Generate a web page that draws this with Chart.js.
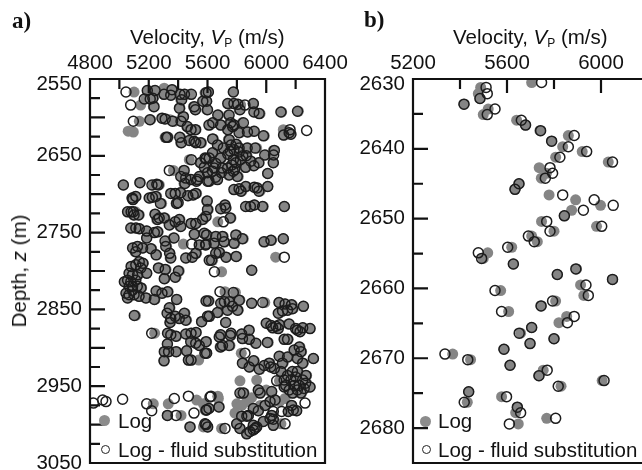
<!DOCTYPE html>
<html>
<head>
<meta charset="utf-8">
<title>Velocity logs</title>
<script src="https://cdn.jsdelivr.net/npm/chart.js@4"></script>
<style>
    html, body { margin: 0; padding: 0; background: #fff; width: 642px; height: 470px; overflow: hidden; }
    body { position: relative; font-family: "Liberation Sans", Arial, sans-serif; font-size: 20.5px; color: #111; }
    canvas { position: absolute; top: 0; }
    #chartA { left: 0; }
    #chartB { left: 345px; }
    .txt { position: absolute; white-space: nowrap; line-height: 24px; }
    .panel { font-family: "Liberation Serif", serif; font-weight: bold; font-size: 23px; }
    .txt sub { font-size: 12px; line-height: 0; vertical-align: -3px; }
    .dot { position: absolute; width: 11px; height: 11px; border-radius: 50%; background: #8c8c8c; }
    .ring { position: absolute; width: 7px; height: 7px; border-radius: 50%; border: 1.4px solid #222; }
</style>
</head>
<body>
<canvas id="chartA" width="360" height="490"></canvas>
<canvas id="chartB" width="320" height="490"></canvas>

<div class="txt panel" style="left:12px;top:9px">a)</div>
<div class="txt panel" style="left:364px;top:8px">b)</div>
<div class="txt" style="left:130px;top:25px">Velocity, <i>V</i><sub>P</sub> (m/s)</div>
<div class="txt" style="left:453px;top:25px">Velocity, <i>V</i><sub>P</sub> (m/s)</div>
<div class="txt" style="left:19px;top:271px;transform:translate(-50%,-50%) rotate(-90deg)">Depth, <i>z</i> (m)</div>

<div class="dot" style="left:99px;top:415px"></div>
<div class="txt" style="left:118px;top:409px">Log</div>
<div class="ring" style="left:101px;top:445px"></div>
<div class="txt" style="left:118px;top:438px">Log - fluid substitution</div>

<div class="dot" style="left:420px;top:416px"></div>
<div class="txt" style="left:438px;top:409px">Log</div>
<div class="ring" style="left:422px;top:445px"></div>
<div class="txt" style="left:438px;top:438px">Log - fluid substitution</div>

<script>
const logLabel = 'Log';
const subLabel = 'Log - fluid substitution';

// Panel a) whole interval
const depthA = [
    2567, 2584, 2605, 2618, 2619, 2565, 2565, 2562, 2570, 2564,
    2571, 2575, 2576, 2576, 2586, 2570, 2570, 2570, 2577, 2588,
    2586, 2590, 2568, 2579, 2590, 2603, 2601, 2602, 2605, 2599,
    2605, 2612, 2616, 2616, 2603, 2626, 2626, 2626, 2633, 2630,
    2631, 2633, 2633, 2655, 2654, 2659, 2665, 2669, 2669, 2677,
    2679, 2686, 2681, 2681, 2677, 2683, 2683, 2688, 2685, 2688,
    2687, 2688, 2699, 2699, 2698, 2702, 2701, 2699, 2705, 2707,
    2703, 2705, 2704, 2703, 2712, 2712, 2711, 2709, 2567, 2567,
    2579, 2582, 2582, 2583, 2584, 2590, 2582, 2593, 2595, 2593,
    2592, 2597, 2597, 2610, 2607, 2610, 2607, 2610, 2607, 2620,
    2619, 2618, 2624, 2616, 2612, 2616, 2617, 2623, 2620, 2622,
    2628, 2636, 2629, 2636, 2646, 2642, 2640, 2640, 2640, 2643,
    2649, 2659, 2649, 2659, 2657, 2665, 2659, 2677, 2673, 2653,
    2653, 2653, 2666, 2666, 2666, 2675, 2683, 2681, 2672, 2648,
    2644, 2650, 2650, 2668, 2672, 2663, 2635, 2645, 2655, 2655,
    2662, 2640, 2660, 2670, 2678, 2670, 2694, 2693, 2690, 2691,
    2696, 2690, 2696, 2692, 2714, 2718, 2716, 2714, 2716, 2716,
    2716, 2723, 2723, 2723, 2727, 2727, 2726, 2731, 2733, 2731,
    2740, 2733, 2736, 2742, 2738, 2738, 2733, 2729, 2744, 2744,
    2745, 2748, 2757, 2750, 2749, 2761, 2757, 2768, 2783, 2777,
    2752, 2751, 2765, 2766, 2766, 2777, 2783, 2782, 2786, 2770,
    2768, 2770, 2775, 2771, 2779, 2788, 2790, 2792, 2794, 2796,
    2803, 2803, 2805, 2805, 2814, 2812, 2814, 2812, 2820, 2820,
    2820, 2822, 2825, 2829, 2831, 2835, 2831, 2833, 2835, 2837,
    2826, 2829, 2827, 2837, 2796, 2798, 2810, 2808, 2800, 2858,
    2848, 2855, 2862, 2859, 2862, 2855, 2864, 2867, 2866, 2859,
    2839, 2720, 2719, 2736, 2731, 2753, 2755, 2755, 2753, 2758,
    2762, 2764, 2764, 2765, 2762, 2760, 2758, 2777, 2776, 2782,
    2781, 2786, 2782, 2801, 2799, 2827, 2828, 2839, 2838, 2840,
    2842, 2840, 2842, 2841, 2841, 2843, 2844, 2846, 2846, 2851,
    2851, 2854, 2859, 2855, 2852, 2851, 2849, 2867, 2868, 2871,
    2872, 2870, 2869, 2875, 2874, 2875, 2874, 2875, 2877, 2877,
    2881, 2883, 2882, 2881, 2881, 2883, 2885, 2882, 2881, 2880,
    2895, 2894, 2892, 2897, 2907, 2905, 2905, 2905, 2904, 2917,
    2916, 2916, 2916, 2972, 2968, 2970, 2967, 2973, 2982, 2973,
    2966, 2963, 2968, 2988, 2988, 2985, 2973, 2981, 3003, 3000,
    3003, 2964, 2886, 2884, 2888, 2889, 2894, 2893, 2889, 2889,
    2879, 2892, 2899, 2897, 2897, 2907, 2907, 2911, 2903, 2899,
    2905, 2914, 2912, 2914, 2920, 2920, 2920, 2925, 2917, 2928,
    2923, 2920, 2925, 2927, 2931, 2943, 2942, 2943, 2942, 2936,
    2931, 2931, 2936, 2949, 2942, 2938, 2942, 2949, 2946, 2955,
    2949, 2955, 2953, 2951, 2951, 2959, 2959, 2959, 2959, 2955,
    2959, 2957, 2955, 2970, 2973, 2975, 2966, 2970, 2975, 2965,
    2963, 2966, 2977, 2979, 2981, 2972, 2968, 2970, 2975, 2979,
    2988, 2989, 2985, 2975, 2981, 2983, 2982, 2983, 2999, 3005,
    3005, 2989, 2982, 2992, 2993, 2988, 2996, 2983, 2999, 3001,
    3005, 3007, 3009, 3012, 3003, 3001, 3003, 2999
];
const logVpA = [
    5100, 5145, 5136, 5060, 5095, 5197, 5235, 5305, 5300, 5363,
    5356, 5231, 5204, 5180, 5231, 5408, 5447, 5481, 5418, 5413,
    5504, 5515, 5583, 5572, 5594, 5213, 5295, 5304, 5375, 5431,
    5424, 5458, 5481, 5522, 5345, 5311, 5333, 5417, 5417, 5481,
    5504, 5526, 5560, 5476, 5594, 5549, 5583, 5368, 5436, 5424,
    5447, 5440, 5492, 5526, 5549, 5606, 5520, 5027, 5140, 5231,
    5249, 5272, 5356, 5386, 5413, 5470, 5497, 5526, 5084, 5095,
    5106, 5209, 5231, 5254, 5288, 5386, 5395, 5594, 5606, 5776,
    5594, 5742, 5776, 5810, 5826, 5815, 5912, 5924, 5958, 6105,
    6219, 5674, 5742, 5617, 5640, 5696, 5753, 5787, 5835, 5821,
    5878, 5912, 5987, 5742, 5776, 6116, 6130, 6123, 6150, 6162,
    5640, 5674, 5742, 5753, 5640, 5787, 5821, 5878, 5935, 6048,
    6040, 6048, 5999, 5946, 5889, 5855, 5799, 5810, 6010, 5696,
    5617, 5590, 5651, 5696, 5742, 5742, 5617, 5662, 5594, 5730,
    5760, 5835, 5870, 5780, 5700, 5910, 5800, 5810, 5780, 5830,
    5760, 5700, 5650, 5640, 5660, 5780, 5787, 5821, 5867, 5924,
    5958, 6010, 5835, 5945, 5719, 5719, 5867, 5919, 5980, 6123,
    5885, 5110, 5061, 5084, 5095, 5136, 5243, 5277, 5254, 5311,
    5345, 5413, 5386, 5413, 5492, 5526, 5572, 5583, 5084, 5118,
    5140, 5186, 5186, 5243, 5265, 5320, 5367, 5322, 5345, 5345,
    5515, 5583, 5436, 5549, 5583, 5526, 5458, 5492, 5620, 5095,
    5129, 5163, 5106, 5220, 5254, 5140, 5163, 5118, 5084, 5140,
    5186, 5072, 5095, 5129, 5038, 5061, 5084, 5106, 5061, 5095,
    5129, 5152, 5084, 5050, 5072, 5061, 5095, 5140, 5186, 5243,
    5254, 5295, 5333, 5390, 5272, 5318, 5311, 5386, 5408, 5110,
    5345, 5333, 5356, 5386, 5413, 5447, 5458, 5345, 5560, 5606,
    5594, 5606, 5696, 5670, 5760, 5594, 5662, 5708, 5799, 5844,
    5719, 5651, 5787, 5594, 5992, 6037, 6116, 5662, 5685, 5730,
    5799, 5635, 6064, 5696, 5901, 5719, 5790, 5612, 5821, 5753,
    5696, 5719, 5901, 5990, 6087, 6128, 6178, 6253, 5776, 5810,
    5742, 5674, 5617, 6087, 6116, 6150, 6184, 5724, 6003, 6037,
    6071, 6094, 6150, 6207, 6253, 6298, 6048, 6078, 6218, 5883,
    5760, 5685, 5833, 5240, 5333, 5356, 5390, 5458, 5492, 5522,
    5327, 5526, 5492, 5549, 5583, 5311, 5340, 5390, 5458, 5304,
    5470, 5492, 5540, null, null, null, null, 5231, null, 5333,
    null, null, 5526, 5327, 5420, null, 5572, 5583, 5481, 5583,
    5572, null, 5685, 5760, 5844, 5889, 5924, 6014, 6128, 6150,
    6230, 5594, 5685, 5708, 5753, 5594, 5830, 6094, 6196, 6230,
    6241, 6321, 6150, 6218, 6253, 6116, 5844, 5889, 5919, 5958,
    5992, 6026, 6037, 6060, 6105, 5821, 5935, 6090, 6128, 6150,
    6184, 6218, 6275, 6139, 6173, 6207, 6253, 6230, 6275, 6162,
    6196, 6218, 6264, 6298, 6128, 6184, 6241, 5830, 5850, 5946,
    5958, 6037, 6000, 5867, 5800, 5833, 6128, 6090, 5960, 5900,
    5670, 5674, 5678, 5610, 5594, null, 6060, 6026, 5992, 5912,
    5878, 5833, 5787, 6173, 6184, 6150, 6207, null, 5799, 5821,
    5696, 5868, 5946, 6026, 6048, 6037, 5980, null, 6100, 6048,
    5924, 5912, 5889, 5867, 5935, 5912, 5601, 5583
];
const subVpA = [
    5045, 5077, 5095, null, null, 5190, 5243, null, 5304, 5358,
    5350, 5228, 5210, 5170, 5236, 5413, 5443, 5490, 5424, 5409,
    5510, 5518, 5590, 5568, 5600, 5208, 5290, 5312, 5362, 5436,
    5420, 5463, 5488, 5518, null, 5318, 5327, 5411, 5422, 5476,
    5509, 5520, 5553, 5490, 5590, 5553, 5578, 5340, 5441, 5418,
    5452, 5446, 5487, 5532, 5544, 5600, 5526, 5027, 5140, 5222,
    5255, 5264, 5350, 5380, 5417, 5466, 5503, 5520, 5088, 5092,
    5112, 5203, 5225, 5248, 5280, 5390, 5400, 5598, 5606, 5776,
    5594, 5738, 5780, 5806, 5855, 5821, 5912, 5916, 5952, 6100,
    6213, 5670, 5747, 5610, 5636, 5690, 5758, 5780, 5844, 5815,
    5872, 5918, 5981, 5738, 5771, 6162, 6275, 6118, 6156, 6168,
    5635, 5668, 5748, 5760, 5634, 5780, 5815, 5870, 5925, 6055,
    6050, 6048, 5990, 5950, 5895, 5860, 5793, 5803, 6010, 5690,
    5612, 5583, 5646, 5700, 5737, 5748, 5610, 5668, 5600, 5738,
    5755, 5840, 5864, 5786, 5694, 5916, 5795, 5816, 5776, 5824,
    5766, 5708, 5657, 5634, 5655, 5775, 5780, 5815, 5860, 5918,
    5950, 6010, 5828, 5938, 5719, 5725, 5860, 5919, 5975, 6123,
    5892, 5095, 5056, 5080, 5100, 5130, 5243, 5271, 5260, 5305,
    5340, 5408, 5380, 5418, 5488, 5520, 5566, 5590, 5078, 5112,
    5135, 5186, 5186, 5238, 5260, 5311, 5372, 5316, 5350, 5342,
    5510, 5577, 5492, 5544, 5588, 5520, 5452, 5497, 5612, 5090,
    5123, 5158, 5112, 5215, 5250, 5135, 5160, 5112, 5080, 5146,
    5186, 5066, 5090, 5124, 5034, 5056, 5078, 5112, 5067, 5090,
    5122, 5147, 5090, 5045, 5066, 5055, 5100, 5134, 5180, 5238,
    5250, 5290, 5328, 5390, 5266, 5312, 5306, 5380, 5402, 5102,
    5340, 5325, 5350, 5380, 5408, 5442, 5452, 5345, 5560, 5600,
    5590, 5600, 5690, 5708, 5755, 5594, 5656, 5702, 5793, 5838,
    5713, 5645, 5781, 5589, 5985, 6032, 6116, 5656, 5680, 5726,
    5795, 5628, 6123, 5647, 5901, 5685, 5776, 5606, 5816, 5748,
    5690, 5715, 5901, 5976, 6087, 6128, 6172, 6253, 5770, 5805,
    5736, 5668, 5612, 6082, 6111, 6145, 6178, 5724, 6000, 6032,
    6066, 6090, 6156, 6200, 6248, 6298, 6044, 6082, 6212, 5883,
    5760, 5690, 5833, 5220, 5328, 5350, 5385, 5452, 5488, 5522,
    5327, 5520, 5486, 5544, 5583, 5306, 5335, 5386, 5458, 5304,
    5470, 5488, null, 4823, 4886, 4909, 5022, 5186, 5220, null,
    5374, 5470, null, 5327, 5386, 5508, null, 5590, 5481, 5590,
    null, 5617, 5680, 5755, 5838, 5885, 5930, 6008, 6122, 6145,
    6230, 5590, 5690, 5702, 5747, 5594, 5855, 6088, 6190, 6225,
    6236, 6321, 6145, 6212, 6248, 6110, 5838, 5884, 5914, 5952,
    5986, 6020, 6030, 6055, 6100, null, null, 6071, 6122, 6145,
    6178, 6212, 6270, 6133, 6168, 6200, 6248, 6224, 6268, 6156,
    6190, 6212, 6258, 6298, 6122, 6180, 6236, 5821, 5844, 5946,
    5958, 6037, null, null, null, null, null, null, null, null,
    5624, null, 5678, 5610, 5594, 6264, 6060, 6026, 5992, 5912,
    5878, 5833, null, 6173, 6184, 6150, 6207, 6105, 5799, 5821,
    5719, 5868, 5946, 6026, 6048, 6037, 5980, 6048, 6128, 6048,
    5924, 5912, 5889, 5867, 5935, 5912, 5601, 5583
];

// Panel b) close-up
const depthB = [
    2630.5, 2631.2, 2632.1, 2632.8, 2633.6, 2634.3, 2635.1, 2635.9, 2636.6, 2637.4,
    2638.1, 2638.9, 2639.7, 2640.4, 2641.2, 2641.9, 2642.7, 2643.5, 2644.2, 2645.0,
    2645.8, 2646.6, 2647.3, 2648.1, 2648.8, 2649.6, 2650.4, 2651.1, 2651.8, 2652.5,
    2653.3, 2654.1, 2654.9, 2655.7, 2656.5, 2657.2, 2658.0, 2658.7, 2659.5, 2660.3,
    2661.0, 2661.8, 2662.5, 2663.3, 2664.0, 2664.9, 2665.6, 2666.4, 2667.2, 2667.9,
    2668.7, 2669.4, 2670.2, 2671.0, 2671.7, 2672.5, 2673.2, 2674.0, 2674.8, 2675.5,
    2676.3, 2677.0, 2677.8, 2678.6, 2679.4
];
const logVpB = [
    5705, 5488, 5478, 5485, 5417, 5520, 5499, 5641, 5679, 5740,
    5861, 5790, 5837, 5920, 5807, 6031, 5737, 5768, 5746, 5651,
    5634, 5779, 5892, 5998, 5875, 5844, 5747, 5981, 5800, 5705,
    5729, 5620, 5518, 5499, 5627, 5896, 5814, 6049, 5913, 5573,
    5927, 5807, 5745, 5607, 5854, 5821, 5705, 5658, 5800, 5698,
    5587, 5369, 5445, 5613, 5754, 5736, 6005, 5830, 5437, 5577,
    5431, 5644, 5637, 5769, 5648
];
const subVpB = [
    5747, 5511, 5516, 5485, 5417, 5549, 5516, 5661, 5679, 5743,
    5886, 5790, 5861, 5939, 5825, 6049, 5783, 5794, 5763, 5651,
    5634, 5837, 5971, 6052, 5925, 5844, 5769, 6003, 5783, 5691,
    5716, 5603, 5478, 5492, 5627, 5893, 5814, 6049, 5936, 5549,
    5946, 5794, 5745, 5577, 5886, 5857, 5705, 5652, 5800, 5698,
    5587, 5336, 5433, 5613, 5771, 5736, 6013, 5818, 5437, 5598,
    5418, 5644, 5658, 5807, 5610
];

// Frame and inward tick marks, long ones where a label can sit
const frameTicks = {
    id: 'frameTicks',
    afterDatasetsDraw(chart, args, opts) {
        const { ctx, chartArea, scales } = chart;
        ctx.save();
        ctx.strokeStyle = '#111';
        ctx.lineWidth = 2.2;
        ctx.beginPath();
        ctx.rect(chartArea.left, chartArea.top, chartArea.width, chartArea.height);
        scales.x.ticks.forEach(t => {
            const px = scales.x.getPixelForValue(t.value);
            const len = t.value % opts.xLong === 0 ? 14 : 10;
            ctx.moveTo(px, chartArea.top);
            ctx.lineTo(px, chartArea.top + len);
        });
        scales.y.ticks.forEach(t => {
            const py = scales.y.getPixelForValue(t.value);
            const len = t.value % opts.yLong === 0 ? 15 : 10;
            ctx.moveTo(chartArea.left, py);
            ctx.lineTo(chartArea.left + len, py);
        });
        ctx.stroke();
        ctx.restore();
    }
};

function pairs(vp, depth) {
    return depth.map((z, i) => ({ x: vp[i], y: z })).filter(p => p.x !== null);
}

function drawPanel(id, depth, logVp, subVp, cfg) {
    const font = { family: '"Liberation Sans", Arial, sans-serif', size: 20.5 };
    return new Chart(document.getElementById(id), {
        type: 'scatter',
        data: {
            datasets: [
                { label: logLabel, data: pairs(logVp, depth), order: 2, pointRadius: 5.5, backgroundColor: '#858585', borderWidth: 0 },
                { label: subLabel, data: pairs(subVp, depth), order: 1, pointRadius: 5, backgroundColor: 'rgba(0,0,0,0)', borderColor: '#1c1c1c', borderWidth: 1.5 }
            ]
        },
        options: {
            responsive: false,
            animation: false,
            layout: { padding: { right: cfg.padRight, bottom: 27 } },
            plugins: { legend: { display: false }, tooltip: { enabled: false }, frameTicks: { xLong: cfg.xLabelStep, yLong: cfg.yLong } },
            scales: {
                x: {
                    type: 'linear', position: 'top', min: cfg.xMin, max: cfg.xMax,
                    grid: { display: false }, border: { display: false },
                    afterFit: s => { s.height = 79; },
                    ticks: {
                        stepSize: cfg.xStep, autoSkip: false, maxRotation: 0, padding: -5, color: '#111', font,
                        callback: v => v % cfg.xLabelStep === 0 ? String(v) : ''
                    }
                },
                y: {
                    reverse: true, min: cfg.yMin, max: cfg.yMax,
                    grid: { display: false }, border: { display: false },
                    afterFit: s => { s.width = cfg.axisWidth; },
                    ticks: {
                        stepSize: cfg.yStep, autoSkip: false, padding: 0, color: '#111',
                        // the top label sits a little below the corner
                        font: ctx => ({ ...font, lineHeight: ctx.tick && ctx.tick.value === cfg.yMin ? 0.5 : 1.2 }),
                        callback: v => {
                            if ((v - cfg.yMin) % cfg.yLabelStep !== 0) return '';
                            return v === cfg.yMin ? ['', String(v)] : String(v);
                        }
                    }
                }
            }
        },
        plugins: [frameTicks]
    });
}

drawPanel('chartA', depthA, logVpA, subVpA, {
    xMin: 4800, xMax: 6400, xStep: 200, xLabelStep: 400,
    yMin: 2550, yMax: 3050, yStep: 25, yLabelStep: 100, yLong: 50,
    axisWidth: 90, padRight: 35
});
drawPanel('chartB', depthB, logVpB, subVpB, {
    xMin: 5200, xMax: 6200, xStep: 200, xLabelStep: 400,
    yMin: 2630, yMax: 2685, yStep: 5, yLabelStep: 10, yLong: 10,
    axisWidth: 68, padRight: 17
});
</script>
</body>
</html>
